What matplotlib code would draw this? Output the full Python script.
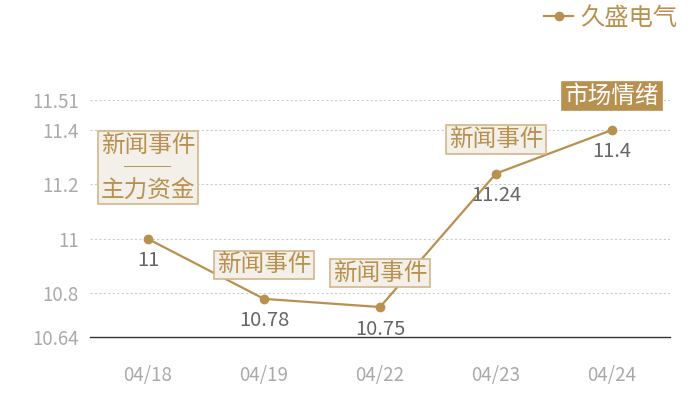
import matplotlib
matplotlib.use("Agg")
import matplotlib.pyplot as plt
from matplotlib.lines import Line2D

plt.rcParams['font.family'] = ['Noto Sans CJK SC', 'DejaVu Sans']

#-----
# data
#-----
dates   = ['04/18', '04/19', '04/22', '04/23', '04/24']
prices  = [11.0, 10.78, 10.75, 11.24, 11.4]
labels  = ['11', '10.78', '10.75', '11.24', '11.4']
events  = ['新闻事件\n──\n主力资金', '新闻事件', '新闻事件', '新闻事件', '市场情绪']
yticks  = [10.64, 10.8, 11, 11.2, 11.4, 11.51]
series  = '久盛电气'

gold   = '#b8904f'
light  = '#f3efe9'
edge   = '#d2b68a'
grey   = '#aaaaaa'

fig = plt.figure(figsize=(7, 4), dpi=100)
ax = fig.add_axes([90/700, 1 - 337/400, 580/700, 237/400])

x = list(range(len(dates)))
ax.plot(x, prices, color=gold, lw=1.6, marker='o', ms=6, zorder=3)

# value labels under each point
for i, (v, s) in enumerate(zip(prices, labels)):
    ax.annotate(s, (i, v), xytext=(0, -22), textcoords='offset pixels',
                ha='center', va='center', fontsize=14.5, color='#666666', zorder=4)

# event boxes above each point
for i, (v, s) in enumerate(zip(prices, events)):
    last = (i == len(events) - 1)
    dy = 71 if '\n' in s else 34
    ax.annotate(s, (i, v), xytext=(0, dy), textcoords='offset pixels',
                ha='center', va='center', fontsize=17, linespacing=0.95,
                color='white' if last else gold, zorder=5,
                bbox=dict(boxstyle='square,pad=0.12',
                          fc=gold if last else light,
                          ec=gold if last else edge, lw=1.2))

ax.set_xlim(-0.5, len(dates) - 0.5)
ax.set_ylim(yticks[0], yticks[-1])
ax.set_xticks(x)
ax.set_xticklabels(dates)
ax.set_yticks(yticks)
ax.set_yticklabels(['%g' % t for t in yticks])
ax.tick_params(length=0, colors=grey, labelsize=13.5)
ax.tick_params(axis='x', pad=20)
ax.tick_params(axis='y', pad=8)

for t in yticks[1:]:
    ax.axhline(t, color='#cccccc', lw=0.8, ls=(0, (2, 2)), zorder=1)

for side in ['top', 'right', 'left']:
    ax.spines[side].set_visible(False)
ax.spines['bottom'].set_color('#333333')
ax.spines['bottom'].set_linewidth(1.0)

handle = Line2D([], [], color=gold, lw=1.6, marker='o', ms=6)
ax.legend([handle], [series], loc='upper right', bbox_to_anchor=(0.975, 1.0),
          bbox_transform=fig.transFigure, frameon=False, handlelength=1.2,
          handletextpad=0.3, prop={'size': 17.5}, labelcolor=gold,
          borderaxespad=0.0, borderpad=0.2)

fig.savefig('out.png', dpi=100)
